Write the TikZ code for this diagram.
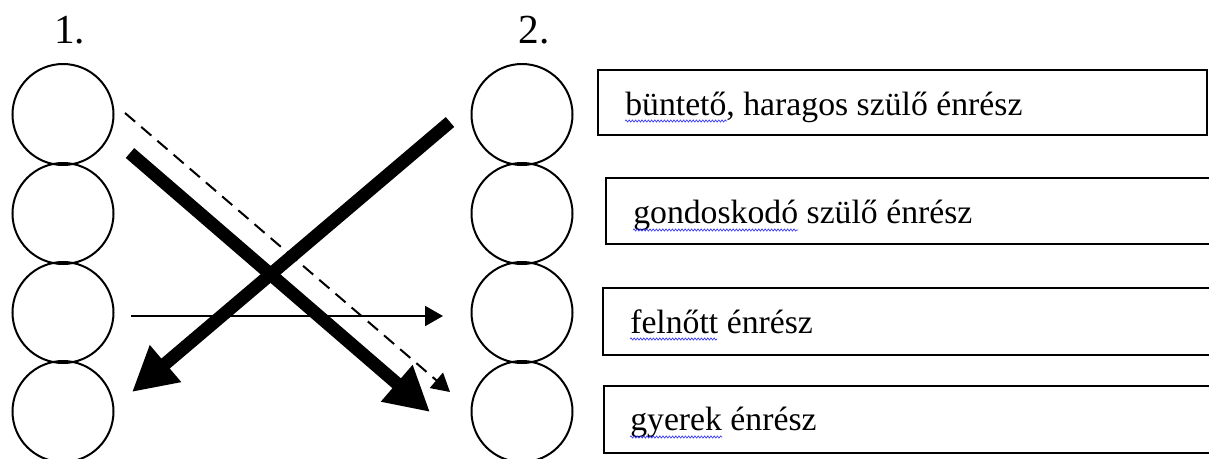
\documentclass[tikz,border=0pt]{standalone}
\usepackage{fontspec}
\setmainfont{Liberation Serif}
\usetikzlibrary{arrows.meta,decorations.pathmorphing}
\begin{document}
\begin{tikzpicture}[x=0.75pt,y=-0.75pt,
  ring/.style={draw, circle, line width=1.5pt, minimum size=75.75pt, inner sep=0pt},
  boxst/.style={draw, line width=1.5pt},
  lbl/.style={font=\fontsize{31}{37}\selectfont, inner sep=0pt, anchor=base},
  txt/.style={font=\fontsize{25.3}{30}\selectfont, inner sep=0pt, anchor=base west},
  bigarrow/.style={line width=9.75pt, -{Triangle[length=33pt,width=34pt]}},
  thinarrow/.style={line width=1.5pt, -{Triangle[length=13.5pt,width=15pt]}},
  dasharrow/.style={line width=1.5pt, dash pattern=on 10pt off 6pt, -{Triangle[length=13.5pt,width=15pt]}},
  squiggle/.style={blue!80!white, line width=0.5pt, decorate, decoration={snake, amplitude=0.8pt, segment length=2.4pt}}
]
\useasboundingbox (0,0) rectangle (1209,458);
\clip (0,0) rectangle (1209,458);

% column labels
\node[lbl] (n1) at (69.5,43) {1.};
\node[lbl] (n2) at (534,43) {2.};

% circles
\foreach \i/\y in {1/114.5,2/213.5,3/312.5,4/411.5}{
  \node[ring] (l\i) at (63,\y) {};
  \node[ring] (r\i) at (522,\y) {};
}

% boxes
\draw[boxst] (598,70) rectangle (1207,135);
\draw[boxst] (606,178) rectangle (1220,244);
\draw[boxst] (603,288) rectangle (1220,355);
\draw[boxst] (604,386) rectangle (1220,453);

% texts
\node[txt] (t1) at (625,115) {büntető, haragos szülő énrész};
\node[txt] (t2) at (633,223) {gondoskodó szülő énrész};
\node[txt] (t3) at (630,333) {felnőtt énrész};
\node[txt] (t4) at (630,430) {gyerek énrész};

% spell-check squiggles
\draw[squiggle] (625,121) -- (727,121);
\draw[squiggle] (633,230) -- (798,230);
\draw[squiggle] (630,339) -- (717,339);
\draw[squiggle] (630,437) -- (722,437);

% arrow end points
\coordinate (dS) at (125,113);
\coordinate (dE) at (450,392);
\coordinate (aS) at (130,153);
\coordinate (aE) at (430,412);
\coordinate (bS) at (450,122);
\coordinate (bE) at (132,392);
\coordinate (hS) at (131,316);
\coordinate (hE) at (443,316);

\draw[dasharrow] (dS) -- (dE);
\draw[bigarrow] (aS) -- (aE);
\draw[bigarrow] (bS) -- (bE);
\draw[thinarrow] (hS) -- (hE);
\end{tikzpicture}
\end{document}
